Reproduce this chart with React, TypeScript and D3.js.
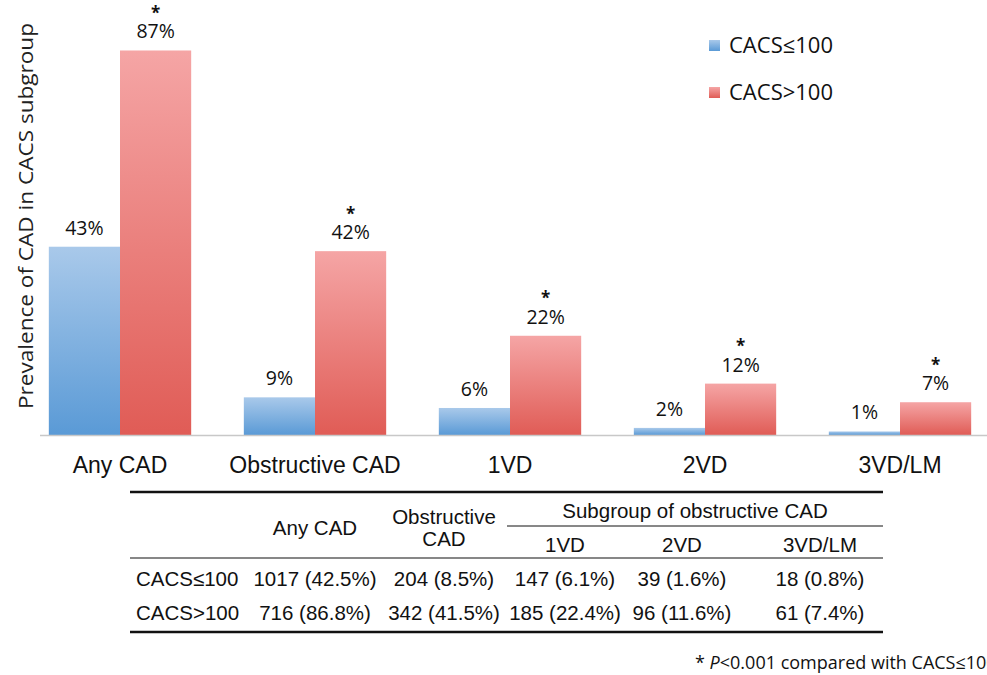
import { useEffect, useRef } from "react";
import * as d3 from "d3";

const categories = ["Any CAD", "Obstructive CAD", "1VD", "2VD", "3VD/LM"];
const seriesNames = ["CACS≤100", "CACS>100"];
const lowValues = [42.5, 8.5, 6.1, 1.6, 0.8];
const highValues = [86.8, 41.5, 22.4, 11.6, 7.4];
const lowLabels = ["43%", "9%", "6%", "2%", "1%"];
const highLabels = ["87%", "42%", "22%", "12%", "7%"];

const tableRowNames = ["CACS≤100", "CACS>100"];
const tableLow = ["1017 (42.5%)", "204 (8.5%)", "147 (6.1%)", "39 (1.6%)", "18 (0.8%)"];
const tableHigh = ["716 (86.8%)", "342 (41.5%)", "185 (22.4%)", "96 (11.6%)", "61 (7.4%)"];

export default function App() {
  const ref = useRef<SVGSVGElement>(null);

  useEffect(() => {
    const width = 987,
      height = 675;
    const svg = d3.select(ref.current);
    svg.selectAll("*").remove();
    svg.attr("width", width).attr("height", height);

    const font = "'Open Sans', sans-serif";
    const afont = "'Liberation Sans', Arial, sans-serif";

    // gradients
    const defs = svg.append("defs");
    const grads = [
      { id: "gBlue", top: "#a9c9ea", bottom: "#5a9ad6" },
      { id: "gRed", top: "#f5a5a5", bottom: "#e05c56" },
    ];
    grads.forEach((g) => {
      const lg = defs
        .append("linearGradient")
        .attr("id", g.id)
        .attr("x1", "0%")
        .attr("y1", "0%")
        .attr("x2", "0%")
        .attr("y2", "100%");
      lg.append("stop").attr("offset", "0%").attr("stop-color", g.top);
      lg.append("stop").attr("offset", "100%").attr("stop-color", g.bottom);
    });

    const baseY = 435;
    const x = d3
      .scaleBand()
      .domain(categories)
      .range([22.5, 997.5])
      .paddingInner(0.27)
      .paddingOuter(0.135);
    const sub = d3.scaleBand().domain(seriesNames).range([0, x.bandwidth()]);
    const y = d3.scaleLinear().domain([0, 100]).range([baseY, baseY - 443]);

    const g = svg.append("g");

    // bars
    const series = [
      { name: seriesNames[0], values: lowValues, labels: lowLabels, fill: "url(#gBlue)", star: false },
      { name: seriesNames[1], values: highValues, labels: highLabels, fill: "url(#gRed)", star: true },
    ];
    series.forEach((s) => {
      g.selectAll(null)
        .data(categories)
        .enter()
        .append("rect")
        .attr("x", (d) => x(d)! + sub(s.name)!)
        .attr("y", (d, i) => y(s.values[i]))
        .attr("width", sub.bandwidth())
        .attr("height", (d, i) => baseY - y(s.values[i]))
        .attr("fill", s.fill);

      g.selectAll(null)
        .data(categories)
        .enter()
        .append("text")
        .attr("x", (d) => x(d)! + sub(s.name)! + sub.bandwidth() / 2)
        .attr("y", (d, i) => y(s.values[i]) - 12)
        .attr("text-anchor", "middle")
        .style("font-family", font)
        .style("font-size", "19.5px")
        .style("fill", "#111")
        .text((d, i) => s.labels[i]);

      if (s.star) {
        // significance marker, sits just above the value label
        g.selectAll(null)
          .data(categories)
          .enter()
          .append("text")
          .attr("x", (d) => x(d)! + sub(s.name)! + sub.bandwidth() / 2)
          .attr("y", (d, i) => y(s.values[i]) - 22)
          .attr("dy", "-0.55em")
          .attr("text-anchor", "middle")
          .style("font-family", font)
          .style("font-size", "17px")
          .style("font-weight", "bold")
          .style("fill", "#111")
          .text("*");
      }
    });

    // x axis line
    g.append("line")
      .attr("x1", 40)
      .attr("x2", 987)
      .attr("y1", baseY + 0.5)
      .attr("y2", baseY + 0.5)
      .attr("stroke", "#c8c8c8")
      .attr("stroke-width", 1.5);

    g.selectAll(null)
      .data(categories)
      .enter()
      .append("text")
      .attr("x", (d) => x(d)! + x.bandwidth() / 2)
      .attr("y", 473)
      .attr("text-anchor", "middle")
      .style("font-family", afont)
      .style("font-size", "23px")
      .style("fill", "#111")
      .text((d) => d);

    // y axis title
    g.append("text")
      .attr("transform", "rotate(-90)")
      .attr("x", -216)
      .attr("y", 33)
      .attr("text-anchor", "middle")
      .attr("textLength", 386)
      .attr("lengthAdjust", "spacingAndGlyphs")
      .style("font-family", font)
      .style("font-size", "20px")
      .style("fill", "#222")
      .text("Prevalence of CAD in CACS subgroup");

    // legend
    const legend = g.append("g").attr("transform", "translate(709,40)");
    series.forEach((s, i) => {
      legend
        .append("rect")
        .attr("x", 0)
        .attr("y", i * 47)
        .attr("width", 11)
        .attr("height", 11)
        .attr("fill", s.fill);
      legend
        .append("text")
        .attr("x", 20)
        .attr("y", i * 47 + 13)
        .style("font-family", font)
        .style("font-size", "22px")
        .style("fill", "#111")
        .text(s.name);
    });

    // table
    const t = g.append("g");
    const tx0 = 130,
      tx1 = 883;
    const colX = [315, 444, 565, 682, 820];
    const hline = (yy: number, x0: number, w: number) =>
      t
        .append("line")
        .attr("x1", x0)
        .attr("x2", tx1)
        .attr("y1", yy)
        .attr("y2", yy)
        .attr("stroke", "#111")
        .attr("stroke-width", w);
    hline(492, tx0, 2.5);
    hline(526, 507, 1);
    hline(558, tx0, 1.2);
    hline(632, tx0, 2.5);

    const ttext = (tx: number, ty: number, s: string, anchor = "middle") =>
      t
        .append("text")
        .attr("x", tx)
        .attr("y", ty)
        .attr("text-anchor", anchor)
        .style("font-family", afont)
        .style("font-size", "20.5px")
        .style("fill", "#111")
        .text(s);

    ttext(colX[0], 535, categories[0]);
    ttext(colX[1], 524, "Obstructive");
    ttext(colX[1], 546, "CAD");
    ttext(695, 518, "Subgroup of obstructive CAD");
    ttext(colX[2], 552, categories[2]);
    ttext(colX[3], 552, categories[3]);
    ttext(colX[4], 552, categories[4]);

    [tableLow, tableHigh].forEach((row, r) => {
      const ry = 586 + r * 34;
      ttext(136, ry, tableRowNames[r], "start");
      row.forEach((v, c) => ttext(colX[c], ry, v));
    });

    // footnote (runs off the right edge, as in the source figure)
    const fn = g
      .append("text")
      .attr("x", 695)
      .attr("y", 669)
      .style("font-family", font)
      .style("font-size", "18px")
      .style("fill", "#111");
    fn.append("tspan").text("* ");
    fn.append("tspan").style("font-style", "italic").text("P");
    fn.append("tspan").text("<0.001 compared with CACS≤100");
  }, []);

  return (
    <svg
      ref={ref}
      style={{ position: "absolute", left: 0, top: 0, background: "#fff" }}
    />
  );
}
